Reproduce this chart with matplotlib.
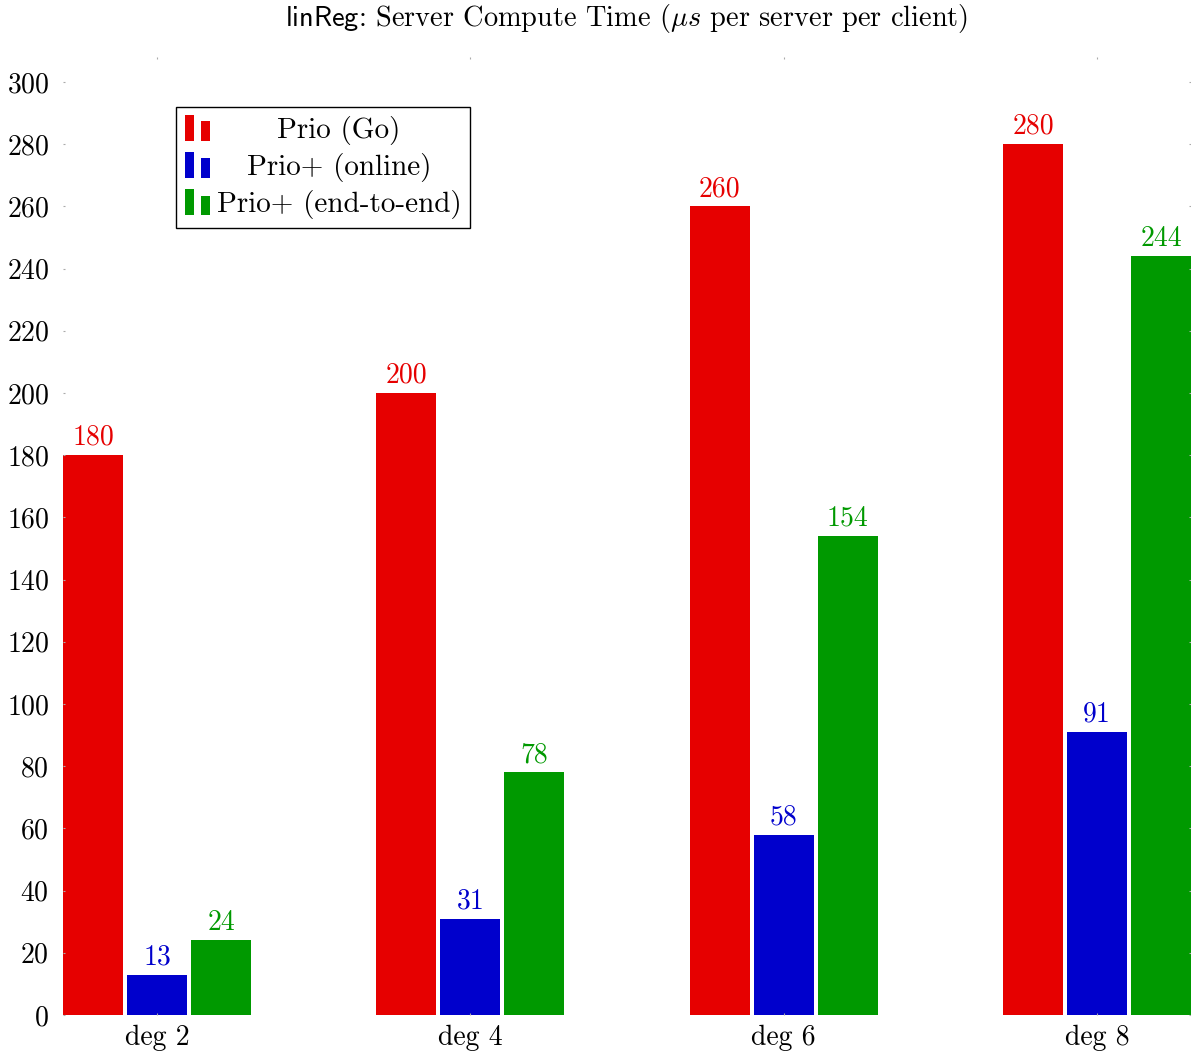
import numpy as np
import matplotlib
matplotlib.use("Agg")
import matplotlib.pyplot as plt
from matplotlib.legend_handler import HandlerBase
from matplotlib.patches import Rectangle

categorias = ["deg 2", "deg 4", "deg 6", "deg 8"]
series = ["Prio (Go)", "Prio+ (online)", "Prio+ (end-to-end)"]
prio_go = [180, 200, 260, 280]
prio_online = [13, 31, 58, 91]
prio_e2e = [24, 78, 154, 244]
valores = [prio_go, prio_online, prio_e2e]
cores = ["#e60000", "#0000cc", "#009900"]

plt.rcParams["font.family"] = "cmr10"
plt.rcParams["mathtext.fontset"] = "cm"
plt.rcParams["axes.formatter.use_mathtext"] = True
plt.rcParams["font.size"] = 20


class IconeBarra(HandlerBase):
    # icone estilo pgfplots: duas barrinhas
    def create_artists(self, legend, orig, xd, yd, w, h, fontsize, trans):
        c = orig.get_facecolor()
        bw = w * 0.36
        r1 = Rectangle((-xd, -yd - h * 0.15), bw, h * 1.25, facecolor=c, edgecolor="none", transform=trans)
        r2 = Rectangle((-xd + w * 0.62, -yd - h * 0.15), bw, h * 0.95, facecolor=c, edgecolor="none", transform=trans)
        return [r1, r2]


fig = plt.figure(figsize=(11.91, 10.57), dpi=100)
ax = fig.add_axes([63 / 1191, 42 / 1057, 1 - 63 / 1191, (1015 - 57) / 1057])

x = np.arange(len(categorias))
largura = 0.1915
passo = 0.2043
barras = []
for i, (v, c, nome) in enumerate(zip(valores, cores, series)):
    b = ax.bar(x + (i - 1) * passo, v, largura, color=c, edgecolor="none", label=nome)
    ax.bar_label(b, padding=3, color=c, fontsize=20)
    barras.append(b)

ax.set_xlim(-0.3, 3.3)
ax.set_ylim(0, 308)
ax.set_yticks(range(0, 301, 20))
ax.set_xticks(x)
ax.set_xticklabels(categorias)
for s in ax.spines.values():
    s.set_visible(False)
ax.tick_params(axis="both", length=1.5, color="#aaaaaa", direction="in",
               top=True, right=True, labelsize=20)
ax.tick_params(axis="y", pad=10)
ax.tick_params(axis="x", pad=7)

ax.set_title(r"$\mathsf{linReg}$: Server Compute Time ($\mu s$ per server per client)",
             fontsize=20.4, pad=22)

leg = ax.legend(handler_map={type(barras[0].patches[0]): IconeBarra()},
                handles=[b.patches[0] for b in barras], labels=series,
                loc="upper left", bbox_to_anchor=(0.100, 0.948),
                fancybox=False, framealpha=1, edgecolor="black",
                handlelength=0.9, handletextpad=0.2, borderpad=0.3,
                labelspacing=0.28, borderaxespad=0, fontsize=21)
leg.get_frame().set_linewidth(1.0)

# centraliza o texto da legenda (como no pgfplots)
fig.canvas.draw()
r = fig.canvas.get_renderer()
larguras = [t.get_window_extent(r).width * 72 / fig.dpi for t in leg.get_texts()]
wmax = max(larguras)
itens = leg._legend_handle_box.get_children()[0].get_children()
for item, w in zip(itens, larguras):
    item.sep = item.sep + (wmax - w) / 2

plt.savefig("out.png", dpi=100)
